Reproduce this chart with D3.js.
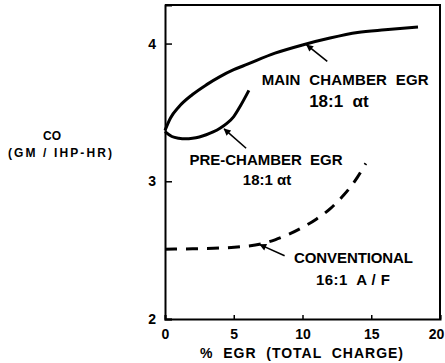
<!DOCTYPE html>
<html>
<head>
<meta charset="utf-8">
<script src="https://cdn.jsdelivr.net/npm/d3@7"></script>
<style>
  body { margin: 0; background: #fff; }
  text { font-family: "Liberation Sans", Arial, sans-serif; font-weight: bold; fill: #000; white-space: pre; }
</style>
</head>
<body>
<script>
// CO vs % EGR, three engine configurations
var mainEgr = [[0, 3.37], [0.4, 3.46], [1, 3.54], [2, 3.63], [3, 3.70], [4, 3.76], [5, 3.81],
  [6, 3.85], [8, 3.93], [10, 3.99], [12, 4.04], [14, 4.08], [16, 4.10], [18.4, 4.12]];
var preEgr = [[0, 3.36], [0.5, 3.325], [1, 3.312], [1.5, 3.308], [2, 3.312], [2.5, 3.322],
  [3, 3.338], [3.5, 3.358], [4, 3.385], [4.5, 3.42], [5, 3.47], [5.5, 3.55], [6.1, 3.66]];
var conventional = [[0, 2.507], [2, 2.51], [4, 2.515], [5.5, 2.525], [7, 2.545], [8, 2.575],
  [9, 2.615], [10, 2.665], [11, 2.725], [12, 2.80], [13, 2.90], [14, 3.03], [14.6, 3.13]];

var xTicks = [0, 5, 10, 15, 20];
var yTicks = [2, 3, 4];

var w = 445, h = 363;
var x = d3.scaleLinear().domain([0, 20]).range([165, 440]);
var y = d3.scaleLinear().domain([2, 4.28]).range([319, 5]);

var svg = d3.select("body").append("svg").attr("width", w).attr("height", h);

// frame
svg.append("path")
  .attr("d", "M" + x(0) + "," + y(4.28) + "H" + x(20) + "V" + y(2))
  .attr("fill", "none").attr("stroke", "#000").attr("stroke-width", 2);

var xAxis = d3.axisBottom(x).tickValues(xTicks).tickSize(-4).tickPadding(10).tickFormat(d3.format("d"));
var yAxis = d3.axisLeft(y).tickValues(yTicks).tickSize(-7).tickPadding(9).tickFormat(d3.format("d"));

var gx = svg.append("g").attr("transform", "translate(0," + y(2) + ")").call(xAxis);
var gy = svg.append("g").attr("transform", "translate(" + x(0) + ",0)").call(yAxis);
[gx, gy].forEach(function(g){
  g.select(".domain").attr("stroke-width", 2);
  g.selectAll(".tick line").attr("stroke-width", 1.5);
  g.selectAll(".tick text").style("font-size", "14px").style("font-family", "Liberation Sans, Arial, sans-serif")
    .style("font-weight", "bold");
});
gx.selectAll(".tick text").attr("dy", "0.71em")
  .attr("dx", function(d){ return d === 20 ? -4 : 0; });

var line = d3.line()
  .x(function(d){ return x(d[0]); })
  .y(function(d){ return y(d[1]); })
  .curve(d3.curveMonotoneX);

svg.append("path").datum(mainEgr).attr("d", line)
  .attr("fill", "none").attr("stroke", "#000").attr("stroke-width", 3);
svg.append("path").datum(preEgr).attr("d", line)
  .attr("fill", "none").attr("stroke", "#000").attr("stroke-width", 3);
svg.append("path").datum(conventional).attr("d", line)
  .attr("fill", "none").attr("stroke", "#000").attr("stroke-width", 3)
  .attr("stroke-dasharray", "12,9");

// arrows: tail -> head, in data units
var arrows = [
  [[11.8, 3.87], [10.3, 3.99]],
  [[5.9, 3.24], [4.3, 3.38]],
  [[8.7, 2.46], [6.9, 2.54]]
];
svg.append("defs").append("marker")
  .attr("id", "head").attr("viewBox", "0 0 10 10").attr("refX", 9).attr("refY", 5)
  .attr("markerWidth", 9).attr("markerHeight", 7).attr("markerUnits", "userSpaceOnUse")
  .attr("orient", "auto")
  .append("path").attr("d", "M0,0L10,5L0,10Z").attr("fill", "#000");

svg.selectAll(".arrow").data(arrows).enter().append("line")
  .attr("x1", function(d){ return x(d[0][0]); }).attr("y1", function(d){ return y(d[0][1]); })
  .attr("x2", function(d){ return x(d[1][0]); }).attr("y2", function(d){ return y(d[1][1]); })
  .attr("stroke", "#000").attr("stroke-width", 1.6).attr("marker-end", "url(#head)");

// curve labels: text, centre x, baseline y (data units), pixel width (0 = natural), font size
var labels = [
  ["MAIN  CHAMBER  EGR", 13.1, 3.70, 167, 15],
  ["18:1  \u03b1t", 12.65, 3.54, 0, 17],
  ["PRE-CHAMBER  EGR", 7.35, 3.118, 153, 15],
  ["18:1 \u03b1t", 7.42, 2.973, 0, 15],
  ["CONVENTIONAL", 13.71, 2.405, 119, 15],
  ["16:1  A / F", 13.67, 2.247, 74, 15]
];
var lbl = svg.selectAll(".lbl").data(labels).enter().append("text")
  .attr("x", function(d){ return x(d[1]); })
  .attr("y", function(d){ return y(d[2]); })
  .attr("text-anchor", "middle")
  .style("font-size", function(d){ return d[4] + "px"; })
  .text(function(d){ return d[0]; });
lbl.filter(function(d){ return d[3] > 0; })
  .attr("text-anchor", null)
  .attr("x", function(d){ return x(d[1]) - d[3] / 2; })
  .attr("textLength", function(d){ return d[3]; })
  .attr("lengthAdjust", "spacing");

// axis titles
svg.append("text").attr("x", 52).attr("y", 140).attr("text-anchor", "middle")
  .style("font-size", "12px").text("CO");
svg.append("text").attr("x", 8).attr("y", 157).attr("textLength", 104)
  .attr("lengthAdjust", "spacing").style("font-size", "12px").text("(GM / IHP-HR)");
svg.append("text").attr("x", 200).attr("y", 358).attr("textLength", 203)
  .attr("lengthAdjust", "spacing").style("font-size", "14px").text("%  EGR  (TOTAL  CHARGE)");
</script>
</body>
</html>
